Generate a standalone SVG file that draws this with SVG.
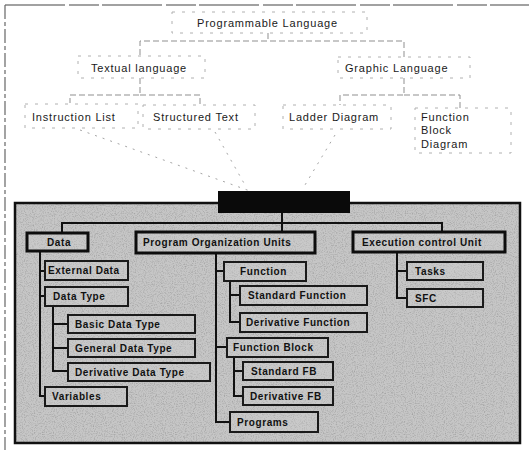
<svg xmlns="http://www.w3.org/2000/svg" width="529" height="450" viewBox="0 0 529 450">
<defs>
<filter id="noise" x="0" y="0" width="100%" height="100%">
<feTurbulence type="fractalNoise" baseFrequency="0.9" numOctaves="2" seed="7" result="t"/>
<feColorMatrix in="t" type="matrix" values="0 0 0 0 0.3  0 0 0 0 0.3  0 0 0 0 0.3  0 0 0 1.6 -0.72"/>
</filter>
<style>
.top{font-family:"Liberation Sans",Arial,sans-serif;font-size:11px;fill:#1a1a1a;letter-spacing:0.8px}
.dbox{fill:none;stroke:#b0b0b0;stroke-width:1;stroke-dasharray:3 7}
.dl{fill:none;stroke:#8f8f8f;stroke-width:1;stroke-dasharray:6 3}
.dot{fill:none;stroke:#a5a5a5;stroke-width:1;stroke-dasharray:2 6}
.b1{fill:#cfcfcf;fill-opacity:0.3;stroke:#0d0d0d;stroke-width:3}
.b2{fill:#cfcfcf;fill-opacity:0.3;stroke:#1a1a1a;stroke-width:2}
.lbl{font-family:"Liberation Sans",Arial,sans-serif;font-size:10px;font-weight:bold;fill:#111;letter-spacing:0.6px}
.cn{fill:none;stroke:#111;stroke-width:2}
</style>
</defs>

<g id="frame">
<line x1="5" y1="5" x2="529" y2="5" stroke="#444" stroke-width="1.2" stroke-dasharray="60 4 30 3"/>
<line x1="5" y1="5" x2="5" y2="450" stroke="#666" stroke-width="1.2" stroke-dasharray="14 3 4 3"/>
</g>

<g id="top-connectors">
<polyline class="dl" points="268,33 268,41"/>
<polyline class="dl" points="140,55 140,41 404,41 404,57"/>
<polyline class="dl" points="140,78 140,95 70,95 70,103"/>
<polyline class="dl" points="140,95 200,95 200,105"/>
<polyline class="dl" points="404,78 404,95 340,95 340,105"/>
<polyline class="dl" points="404,95 460,95 460,108"/>
<line class="dot" x1="80" y1="130" x2="250" y2="191"/>
<line class="dot" x1="215" y1="132" x2="245" y2="185"/>
<line class="dot" x1="335" y1="135" x2="305" y2="185"/>
</g>

<g id="n-programmable">
<rect class="dbox" x="172" y="12" width="195" height="21"/>
<text class="top" x="197" y="27">Programmable Language</text>
</g>
<g id="n-textual">
<rect class="dbox" x="78" y="56" width="127" height="22"/>
<text class="top" x="91" y="72">Textual language</text>
</g>
<g id="n-graphic">
<rect class="dbox" x="338" y="57" width="132" height="21"/>
<text class="top" x="345" y="72">Graphic Language</text>
</g>
<g id="n-il">
<rect class="dbox" x="25" y="104" width="113" height="24"/>
<text class="top" x="32" y="121">Instruction List</text>
</g>
<g id="n-st">
<rect class="dbox" x="143" y="105" width="112" height="24"/>
<text class="top" x="153" y="121">Structured Text</text>
</g>
<g id="n-ld">
<rect class="dbox" x="283" y="105" width="108" height="24"/>
<text class="top" x="289" y="121">Ladder Diagram</text>
</g>
<g id="n-fbd">
<rect class="dbox" x="415" y="108" width="96" height="45"/>
<text class="top" x="421" y="121">Function</text>
<text class="top" x="421" y="134">Block</text>
<text class="top" x="421" y="148">Diagram</text>
</g>

<g id="panel">
<rect x="15" y="203" width="505" height="240" fill="#c6c6c6"/>
<rect x="15" y="203" width="505" height="240" fill="#000" filter="url(#noise)"/>
<rect x="15" y="203" width="505" height="240" fill="none" stroke="#111" stroke-width="2.5"/>
</g>

<g id="n-black">
<rect x="218" y="191" width="132" height="22" fill="#0a0a0a"/>
</g>

<g id="connectors">
<polyline class="cn" points="282,213 282,232"/>
<polyline class="cn" points="62,232 62,223 442,223 442,232"/>
<polyline class="cn" points="40,252 40,396 45,396"/>
<line class="cn" x1="40" y1="271" x2="45" y2="271"/>
<line class="cn" x1="40" y1="296" x2="45" y2="296"/>
<polyline class="cn" points="53,306 53,371 68,371"/>
<line class="cn" x1="53" y1="324" x2="68" y2="324"/>
<line class="cn" x1="53" y1="348" x2="68" y2="348"/>
<polyline class="cn" points="216,254 216,422 230,422"/>
<line class="cn" x1="216" y1="271" x2="224" y2="271"/>
<line class="cn" x1="216" y1="347" x2="227" y2="347"/>
<polyline class="cn" points="230,281 230,322 240,322"/>
<line class="cn" x1="230" y1="295" x2="240" y2="295"/>
<polyline class="cn" points="234,357 234,396 243,396"/>
<line class="cn" x1="234" y1="371" x2="243" y2="371"/>
<polyline class="cn" points="397,252 397,298 407,298"/>
<line class="cn" x1="397" y1="271" x2="407" y2="271"/>
</g>

<g id="n-data"><rect class="b1" x="27" y="233" width="61" height="18"/><text class="lbl" x="47" y="246">Data</text></g>
<g id="n-pou"><rect class="b1" x="136" y="232" width="179" height="21"/><text class="lbl" x="143" y="246">Program Organization Units</text></g>
<g id="n-ecu"><rect class="b1" x="353" y="232" width="152" height="20"/><text class="lbl" x="362" y="246">Execution control Unit</text></g>

<g id="n-extdata"><rect class="b2" x="45" y="261" width="83" height="19"/><text class="lbl" x="48" y="274">External Data</text></g>
<g id="n-datatype"><rect class="b2" x="45" y="287" width="83" height="19"/><text class="lbl" x="53" y="300">Data Type</text></g>
<g id="n-basic"><rect class="b2" x="68" y="315" width="127" height="18"/><text class="lbl" x="75" y="328">Basic Data Type</text></g>
<g id="n-general"><rect class="b2" x="68" y="339" width="127" height="18"/><text class="lbl" x="75" y="352">General Data Type</text></g>
<g id="n-derivdt"><rect class="b2" x="68" y="363" width="142" height="18"/><text class="lbl" x="75" y="376">Derivative Data Type</text></g>
<g id="n-variables"><rect class="b2" x="45" y="387" width="82" height="19"/><text class="lbl" x="52" y="400">Variables</text></g>

<g id="n-function"><rect class="b2" x="224" y="262" width="82" height="19"/><text class="lbl" x="240" y="275">Function</text></g>
<g id="n-stdfunc"><rect class="b2" x="240" y="286" width="127" height="19"/><text class="lbl" x="248" y="299">Standard Function</text></g>
<g id="n-derivfunc"><rect class="b2" x="240" y="313" width="127" height="19"/><text class="lbl" x="246" y="326">Derivative Function</text></g>
<g id="n-fb"><rect class="b2" x="227" y="338" width="101" height="19"/><text class="lbl" x="233" y="351">Function Block</text></g>
<g id="n-stdfb"><rect class="b2" x="243" y="362" width="90" height="18"/><text class="lbl" x="251" y="375">Standard FB</text></g>
<g id="n-derivfb"><rect class="b2" x="243" y="387" width="90" height="18"/><text class="lbl" x="250" y="400">Derivative FB</text></g>
<g id="n-programs"><rect class="b2" x="230" y="412" width="88" height="20"/><text class="lbl" x="237" y="426">Programs</text></g>

<g id="n-tasks"><rect class="b2" x="407" y="262" width="76" height="18"/><text class="lbl" x="415" y="275">Tasks</text></g>
<g id="n-sfc"><rect class="b2" x="407" y="289" width="76" height="18"/><text class="lbl" x="415" y="302">SFC</text></g>
</svg>
